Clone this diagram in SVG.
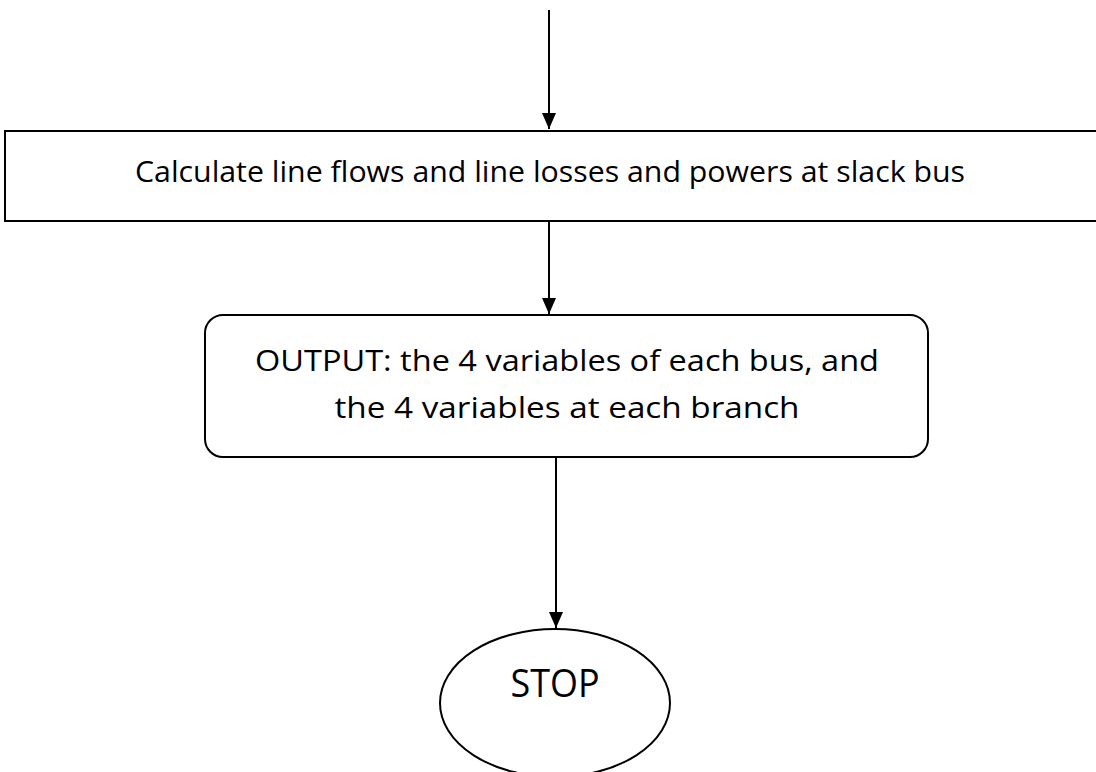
<svg xmlns="http://www.w3.org/2000/svg" width="1096" height="772" viewBox="0 0 1096 772">
<defs>
<marker id="ah" markerWidth="16" markerHeight="14" refX="16" refY="7" orient="auto" markerUnits="userSpaceOnUse" viewBox="0 0 16 14">
<path d="M0,0 L16,7 L0,14 Z" fill="#000"/>
</marker>
<style>
.box{fill:#fff;stroke:#000;stroke-width:2}
.t{font-family:"Open Sans","Liberation Sans",sans-serif;fill:#000;text-anchor:middle}
.c{stroke:#000;stroke-width:2;fill:none;marker-end:url(#ah)}
</style>
</defs>
<rect width="1096" height="772" fill="#fff"/>
<g id="connectors">
<line class="c" x1="549" y1="10" x2="549" y2="129"/>
<line class="c" x1="549" y1="222" x2="549" y2="314"/>
<line class="c" x1="556" y1="458" x2="556" y2="628"/>
</g>
<g id="calc">
<rect class="box" x="5" y="131" width="1100" height="90"/>
<text class="t" x="550" y="182" font-size="29" textLength="830" lengthAdjust="spacingAndGlyphs">Calculate line flows and line losses and powers at slack bus</text>
</g>
<g id="output">
<rect class="box" x="205" y="315" width="723" height="142" rx="18" ry="18"/>
<text class="t" x="567" y="371" font-size="29" textLength="624" lengthAdjust="spacingAndGlyphs">OUTPUT: the 4 variables of each bus, and</text>
<text class="t" x="567" y="418" font-size="29" textLength="465" lengthAdjust="spacingAndGlyphs">the 4 variables at each branch</text>
</g>
<g id="stop">
<ellipse class="box" cx="555" cy="703" rx="115" ry="74"/>
<text class="t" x="555" y="697" font-size="38" textLength="89" lengthAdjust="spacingAndGlyphs">STOP</text>
</g>
</svg>
